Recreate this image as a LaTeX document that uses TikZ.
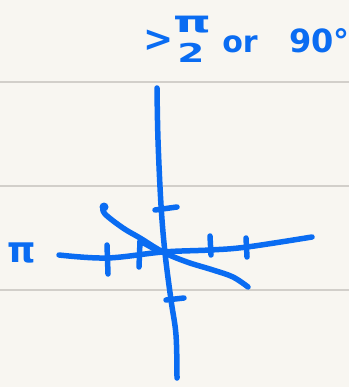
\documentclass[tikz,border=0pt]{standalone}
\usepackage{fontspec}
\setmainfont{DejaVu Sans}
\begin{document}
\begin{tikzpicture}[x=1pt,y=-1pt,
  ink/.style={draw=inkblue,line width=5.5pt,line cap=round,line join=round},
  rule/.style={draw=rulegrey,line width=1.1pt},
  hand/.style={text=inkblue,inner sep=0pt,font=\bfseries}]
\definecolor{inkblue}{HTML}{0A6CF2}
\definecolor{rulegrey}{HTML}{D2CFCA}
\definecolor{paper}{HTML}{F8F6F1}
\fill[paper] (0,0) rectangle (349,387);
\useasboundingbox (0,0) rectangle (349,387);
% ruled lines
\draw[rule] (0,82) -- (349,82);
\draw[rule] (0,186) -- (349,186);
\draw[rule] (0,290) -- (349,290);
% vertical axis
\draw[ink] plot[smooth,tension=0.6] coordinates {(157,88) (158,140) (161,205) (165,253) (171,300) (176,335) (177,378)};
% horizontal axis
\draw[ink] plot[smooth,tension=0.6] coordinates {(59,255) (107,258) (163,252) (210,250) (247,247) (312,237)};
% diagonal
\draw[ink] plot[smooth,tension=0.6] coordinates {(103,207) (105,214) (123,228) (140,238) (163,252) (187,262) (213,270) (233,277) (248,287)};
\fill[inkblue] (104,207) circle (4.5pt);
% ticks
\draw[ink] (155,210) -- (177,207);
\draw[ink] (166,300) -- (184,298);
\draw[ink] (107,245) -- (108,274);
\draw[ink] (139,267) -- (140,241) -- (160,252);
\draw[ink] (210,236) -- (211,255);
\draw[ink] (246,238) -- (247,257);
% labels
\node[hand,font=\fontsize{36}{36}\selectfont\bfseries] (gt) at (159,41) {>};
\node[hand,font=\fontsize{30}{30}\selectfont\bfseries] (pinum) at (192,25) {\scalebox{1.6}[1]{π}};
\node[hand,font=\fontsize{26}{26}\selectfont\bfseries] (two) at (191,53) {\scalebox{1.5}[1]{2}};
\node[hand,font=\fontsize{30}{30}\selectfont\bfseries] (or) at (240,44) {or};
\node[hand,font=\fontsize{32}{32}\selectfont\bfseries,anchor=base west] (deg) at (289,53) {90°};
\node[hand,font=\fontsize{36}{36}\selectfont\bfseries] (pileft) at (22,253) {π};
\end{tikzpicture}
\end{document}
